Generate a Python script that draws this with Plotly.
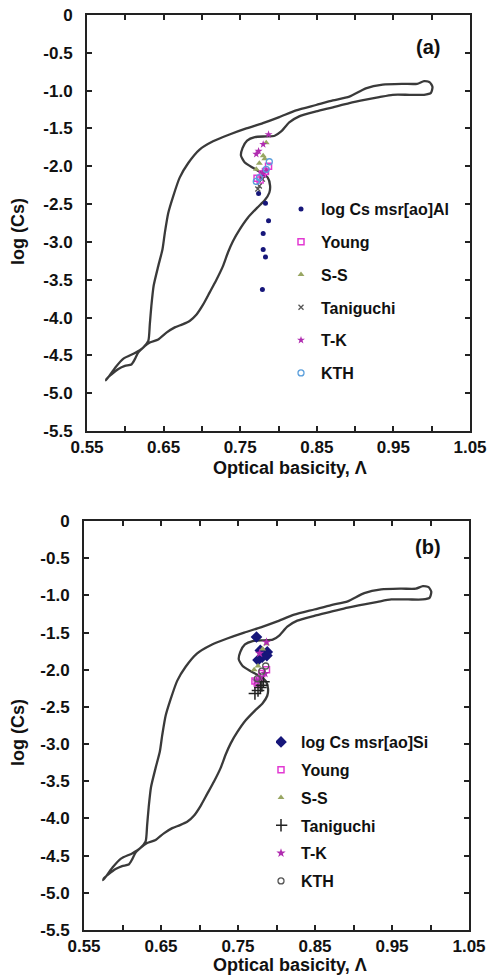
import plotly.graph_objects as go

# ---------------- data ----------------
# Boundary outline of the data region (same in both panels)
outline_x = [0.575, 0.587, 0.598, 0.6125, 0.623, 0.630, 0.632, 0.634, 0.637, 0.643, 0.6485, 0.6516,
             0.656, 0.6624, 0.671, 0.682, 0.697, 0.7145, 0.736, 0.758, 0.7796, 0.801, 0.823, 0.849,
             0.871, 0.8925, 0.914, 0.936, 0.962, 0.981, 0.990, 0.9975, 1.001, 0.999, 0.990, 0.971,
             0.949, 0.9315, 0.914, 0.8925, 0.871, 0.849, 0.827, 0.814, 0.8035, 0.795, 0.784, 0.769,
             0.759, 0.753, 0.751, 0.756, 0.7666, 0.7787, 0.786, 0.789, 0.788, 0.782, 0.772, 0.760,
             0.749, 0.7405, 0.734, 0.7275, 0.719, 0.710, 0.7015, 0.693, 0.684, 0.6746, 0.6646,
             0.6537, 0.643, 0.632, 0.623, 0.617, 0.6125, 0.608, 0.5995, 0.591, 0.582, 0.5756, 0.575]
outline_y = [-4.83, -4.66, -4.54, -4.47, -4.40, -4.31, -4.09, -3.85, -3.58, -3.32, -3.10, -2.88,
             -2.62, -2.40, -2.15, -1.96, -1.78, -1.67, -1.58, -1.50, -1.43, -1.35, -1.26, -1.19,
             -1.13, -1.08, -0.97, -0.92, -0.91, -0.91, -0.875, -0.89, -0.95, -1.03, -1.055, -1.055,
             -1.055, -1.086, -1.12, -1.165, -1.22, -1.275, -1.34, -1.42, -1.54, -1.596, -1.605, -1.614,
             -1.66, -1.76, -1.86, -1.95, -2.02, -2.09, -2.15, -2.255, -2.35, -2.45, -2.55, -2.68,
             -2.84, -2.99, -3.14, -3.32, -3.50, -3.67, -3.83, -3.96, -4.045, -4.09, -4.13,
             -4.20, -4.29, -4.33, -4.40, -4.46, -4.55, -4.62, -4.64, -4.68, -4.75, -4.81, -4.83]

# Panel (a)
a_msr_x = [0.774, 0.783, 0.787, 0.780, 0.780, 0.783, 0.779, 0.778, 0.781]
a_msr_y = [-2.36, -2.49, -2.72, -2.89, -3.10, -3.20, -3.63, -2.15, -2.12]
a_young_x = [0.772, 0.787, 0.779, 0.783, 0.776]
a_young_y = [-2.16, -2.00, -2.10, -2.07, -2.18]
a_ss_x = [0.784, 0.780, 0.775, 0.771, 0.782]
a_ss_y = [-1.69, -1.86, -1.96, -2.04, -1.90]
a_tan_x = [0.775, 0.773, 0.779]
a_tan_y = [-2.26, -2.30, -2.17]
a_tk_x = [0.787, 0.780, 0.774, 0.771, 0.779, 0.784]
a_tk_y = [-1.58, -1.71, -1.80, -1.84, -2.09, -2.06]
a_kth_x = [0.788, 0.784, 0.775, 0.771]
a_kth_y = [-1.94, -2.04, -2.15, -2.20]

# Panel (b)
b_msr_x = [0.774, 0.779, 0.788, 0.7875, 0.7815, 0.776]
b_msr_y = [-1.56, -1.74, -1.76, -1.81, -1.83, -1.87]
b_young_x = [0.772, 0.775, 0.787, 0.781]
b_young_y = [-2.15, -2.18, -2.00, -2.05]
b_ss_x = [0.787, 0.782, 0.776, 0.771]
b_ss_y = [-1.65, -1.72, -1.95, -2.00]
b_tan_x = [0.772, 0.779, 0.781, 0.776, 0.783]
b_tan_y = [-2.32, -2.24, -2.21, -2.28, -2.16]
b_tk_x = [0.787, 0.778, 0.774, 0.779, 0.785]
b_tk_y = [-1.63, -1.78, -2.15, -2.10, -2.05]
b_kth_x = [0.786, 0.781, 0.775]
b_kth_y = [-1.95, -2.02, -2.12]

x_tickvals = [0.55, 0.60, 0.65, 0.70, 0.75, 0.80, 0.85, 0.90, 0.95, 1.00, 1.05]
x_ticktext = ["0.55", "", "0.65", "", "0.75", "", "0.85", "", "0.95", "", "1.05"]
y_tickvals = [0, -0.5, -1.0, -1.5, -2.0, -2.5, -3.0, -3.5, -4.0, -4.5, -5.0, -5.5]
y_ticktext = ["0", "-0.5", "-1.0", "-1.5", "-2.0", "-2.5", "-3.0", "-3.5", "-4.0", "-4.5", "-5.0", "-5.5"]

# ---------------- styling ----------------
FONT = "Liberation Sans, Arial, sans-serif"
NAVY = "#16167a"
MAGENTA = "#e23ad2"
OLIVE = "#98a662"
GRAY = "#555555"
TK = "#b02cb0"
LBLUE = "#5b9fdc"
LINE = "#3a3a3a"

W, H = 489, 978

fig = go.Figure()

def add_panel(xa, ya, legend, series):
    fig.add_trace(go.Scatter(x=outline_x, y=outline_y, mode="lines",
                             line=dict(color=LINE, width=2.3, shape="spline", smoothing=0.6),
                             showlegend=False, xaxis=xa, yaxis=ya, hoverinfo="skip"))
    for i, (name, xs, ys, marker) in enumerate(series):
        fig.add_trace(go.Scatter(x=xs, y=ys, mode="markers", name=name, marker=marker,
                                 xaxis=xa, yaxis=ya, legend=legend,
                                 legendgroup=legend + str(i)))

series_a = [
    ("log Cs msr[ao]Al", a_msr_x, a_msr_y, dict(symbol="circle", size=5, color=NAVY)),
    ("Young", a_young_x, a_young_y, dict(symbol="square-open", size=6, color=MAGENTA, line=dict(width=1.5))),
    ("S-S", a_ss_x, a_ss_y, dict(symbol="triangle-up", size=6, color=OLIVE)),
    ("Taniguchi", a_tan_x, a_tan_y, dict(symbol="x-thin-open", size=5, color=GRAY, line=dict(width=1.3, color=GRAY))),
    ("T-K", a_tk_x, a_tk_y, dict(symbol="star", size=6, color=TK)),
    ("KTH", a_kth_x, a_kth_y, dict(symbol="circle-open", size=6, color=LBLUE, line=dict(width=1.3))),
]
series_b = [
    ("log Cs msr[ao]Si", b_msr_x, b_msr_y, dict(symbol="diamond", size=9, color=NAVY)),
    ("Young", b_young_x, b_young_y, dict(symbol="square-open", size=6, color=MAGENTA, line=dict(width=1.5))),
    ("S-S", b_ss_x, b_ss_y, dict(symbol="triangle-up", size=6, color=OLIVE)),
    ("Taniguchi", b_tan_x, b_tan_y, dict(symbol="cross-thin-open", size=9, color="#222222", line=dict(width=1.5, color="#222222"))),
    ("T-K", b_tk_x, b_tk_y, dict(symbol="star", size=7, color=TK)),
    ("KTH", b_kth_x, b_kth_y, dict(symbol="circle-open", size=6, color="#555555", line=dict(width=1.3))),
]

add_panel("x", "y", "legend", series_a)
add_panel("x2", "y2", "legend2", series_b)

tickfont = dict(family=FONT, size=17, color="#111111", weight="bold")

def xaxis(domain, anchor):
    return dict(domain=domain, anchor=anchor, range=[0.55, 1.05], tickvals=x_tickvals,
                ticktext=x_ticktext, ticks="inside", ticklen=5, tickwidth=1.5, tickcolor="#222",
                showline=True, linewidth=2, linecolor="#222", mirror="ticks", automargin=False,
                showgrid=False, zeroline=False, tickfont=tickfont, ticklabelstandoff=0)

def yaxis(domain, anchor):
    return dict(domain=domain, anchor=anchor, range=[-5.5, 0], tickvals=y_tickvals,
                ticktext=y_ticktext, ticks="inside", ticklen=5, tickwidth=1.5, tickcolor="#222",
                showline=True, linewidth=2, linecolor="#222", mirror="ticks", automargin=False,
                showgrid=False, zeroline=False, tickfont=tickfont, ticklabelstandoff=9)

ax_a = [87 / W, 470 / W]
ay_a = [1 - 431 / H, 1 - 15 / H]
bx_b = [84 / W, 469 / W]
by_b = [1 - 930 / H, 1 - 521 / H]

legfont = dict(family=FONT, size=16, color="#111111", weight="bold")

fig.update_layout(
    width=W, height=H,
    margin=dict(l=0, r=0, t=0, b=0),
    paper_bgcolor="white", plot_bgcolor="white",
    xaxis=xaxis(ax_a, "y"), yaxis=yaxis(ay_a, "x"),
    xaxis2=xaxis(bx_b, "y2"), yaxis2=yaxis(by_b, "x2"),
    legend=dict(x=296 / W, y=1 - 192 / H, xanchor="left", yanchor="top",
                font=legfont, bgcolor="rgba(0,0,0,0)", itemwidth=30, indentation=-15,
                tracegroupgap=9),
    legend2=dict(x=276 / W, y=1 - 725 / H, xanchor="left", yanchor="top",
                 font=legfont, bgcolor="rgba(0,0,0,0)", itemwidth=30, indentation=-15,
                 tracegroupgap=4),
    showlegend=True,
)

titlefont = dict(family=FONT, size=18, color="#111111", weight="bold")
annos = [
    dict(text="Optical basicity, Λ", x=290 / W, y=1 - 468 / H),
    dict(text="Optical basicity, Λ", x=290 / W, y=1 - 965 / H),
    dict(text="log (Cs)", x=18 / W, y=1 - 232 / H, textangle=-90),
    dict(text="log (Cs)", x=18 / W, y=1 - 733 / H, textangle=-90),
    dict(text="(a)", x=428 / W, y=1 - 47 / H, font=dict(family=FONT, size=20, color="#111", weight="bold")),
    dict(text="(b)", x=428 / W, y=1 - 547 / H, font=dict(family=FONT, size=20, color="#111", weight="bold")),
]
for a in annos:
    a.setdefault("font", titlefont)
    fig.add_annotation(xref="paper", yref="paper", showarrow=False,
                       xanchor="center", yanchor="middle", **a)

fig.write_html("out.html", config={"displayModeBar": False},
               post_script="document.body.style.margin='0';")
